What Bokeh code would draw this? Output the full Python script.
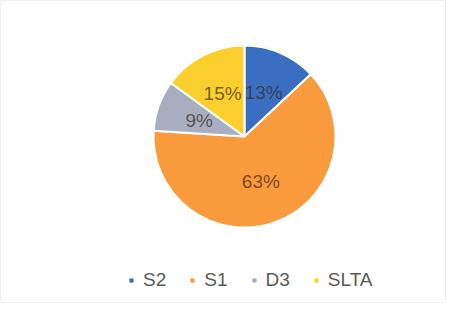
import numpy as np
from bokeh.plotting import figure
from bokeh.models import Range1d, Legend, LegendItem, ColumnDataSource
from bokeh.embed import file_html
from bokeh.resources import INLINE
from bokeh.core.properties import value

categories = ["S2", "S1", "D3", "SLTA"]
values = [13, 63, 9, 15]
labels = ["13%", "63%", "9%", "15%"]
colors = ["#3A6EC0", "#F99A3C", "#A9ADC0", "#FBD02E"]

W, H = 446, 303
p = figure(width=W, height=H, output_backend="svg", toolbar_location=None,
           x_range=Range1d(0, W), y_range=Range1d(0, H), min_border=0,
           outline_line_color="#F0F0F0")
p.axis.visible = False
p.grid.visible = False
p.background_fill_color = "white"

cx, cy, r = 244, 167, 91
vals = np.array(values, dtype=float)
frac = vals / vals.sum()
cum = np.concatenate([[0], np.cumsum(frac)])
start = np.pi / 2 - 2 * np.pi * cum[:-1]
end = np.pi / 2 - 2 * np.pi * cum[1:]
mid = (start + end) / 2
src = ColumnDataSource(dict(start=start, end=end, color=colors, cat=categories,
                            lx=cx + 0.53 * r * np.cos(mid), ly=cy + 0.53 * r * np.sin(mid),
                            label=labels))
p.wedge(x=cx, y=cy, radius=r, start_angle="start", end_angle="end", direction="clock",
        fill_color="color", line_color="white", line_width=2, source=src)
p.text(x="lx", y="ly", text="label", source=src, text_align="center", text_baseline="middle",
       text_font=value("Liberation Sans"), text_font_size="19px", text_color="#3A2818",
       text_alpha=0.7)

items = []
for c, name in zip(colors, categories):
    rr = p.scatter(x=[np.nan], y=[np.nan], marker="square", size=8, fill_color=c, line_color=c)
    items.append(LegendItem(label=name, renderers=[rr]))
leg = Legend(items=items, orientation="horizontal", location=(127, 12),
             glyph_width=8, glyph_height=8, label_standoff=8, spacing=22,
             label_text_font="Liberation Sans", label_text_font_size="19px",
             label_text_color="#595959", border_line_color=None, background_fill_alpha=0,
             padding=4, margin=0)
p.add_layout(leg)

open("out.html", "w").write(file_html(p, INLINE))
